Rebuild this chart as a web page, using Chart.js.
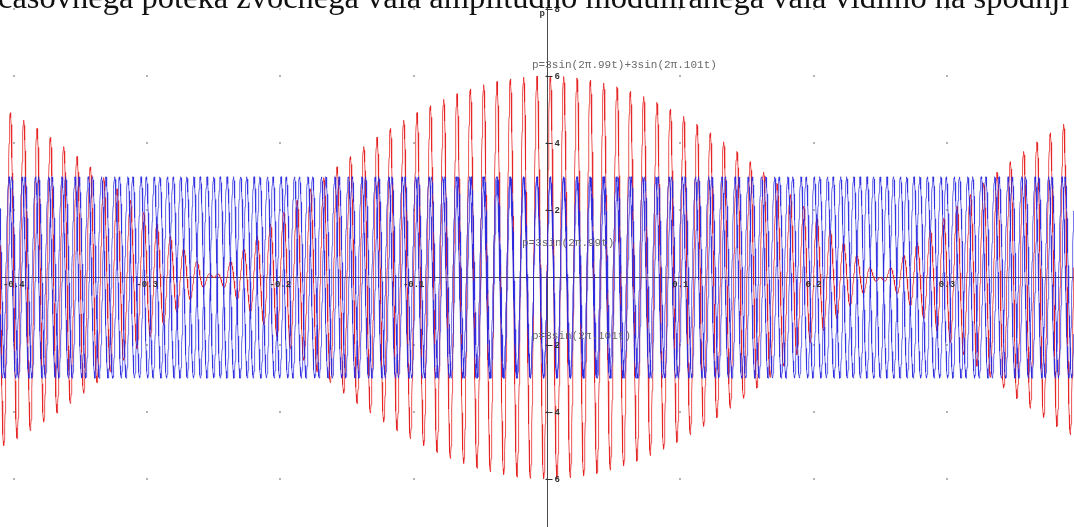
<!DOCTYPE html>
<html lang="sl">
<head>
<meta charset="utf-8">
<title>Utripanje: vsota dveh sinusnih nihanj</title>
<script src="https://cdn.jsdelivr.net/npm/chart.js@4.4.1/dist/chart.umd.min.js"></script>
<style>
  html, body { margin: 0; padding: 0; background: #fff; }
  body { width: 1074px; height: 527px; position: relative; overflow: hidden; }
  #plot { position: absolute; left: 0; top: 0; }
  .caption {
    position: absolute; left: -2px; top: -19px; white-space: nowrap;
    font-family: "Liberation Serif", "DejaVu Serif", serif; font-size: 32.5px;
    color: #111; line-height: 32.5px; z-index: 2;
  }
  .formula {
    position: absolute; white-space: nowrap; z-index: 2;
    font-family: "Liberation Mono", "DejaVu Sans Mono", monospace; font-size: 11px;
    color: #6a6a6a; line-height: 11px;
  }
</style>
</head>
<body>
<div class="caption" id="caption">časovnega poteka zvočnega vala amplitudno moduliranega vala vidimo na spodnji</div>
<div class="formula" style="left:532px; top:60px;">p=3sin(2π.99t)+3sin(2π.101t)</div>
<div class="formula" style="left:522px; top:238px;">p=3sin(2π.99t)</div>
<div class="formula" style="left:532px; top:331px;">p=3sin(2π.101t)</div>
<canvas id="plot" width="1074" height="527"></canvas>
<script>
// Component tones: p = A·sin(2π·f·t)
const amplitudes = [3, 3];
const frequencies = [99, 101];
// Time window shown on the horizontal axis (seconds)
const tRange = [-0.4103, 0.3953];
const pRange = [-7.426, 8.259];
const sampleStep = 0.0002;
// Axis ticks
const xTicks = [-0.4, -0.3, -0.2, -0.1, 0.1, 0.2, 0.3];
const xGrid = [-0.4, -0.3, -0.2, -0.1, 0, 0.1, 0.2, 0.3];
const yTicks = [8, 6, 4, 2, -2, -4, -6];
const yGrid = [8, 6, 4, 2, 0, -2, -4, -6];
const seriesNames = ['p=3sin(2π.99t)+3sin(2π.101t)', 'p=3sin(2π.99t)', 'p=3sin(2π.101t)'];

const tone = (i, t) => amplitudes[i] * Math.sin(2 * Math.PI * frequencies[i] * t);

const times = [];
for (let k = 0; ; k++) {
  const t = tRange[0] + k * sampleStep;
  if (t > tRange[1]) break;
  times.push(t);
}
const wave99 = times.map(t => ({ x: t, y: tone(0, t) }));
const wave101 = times.map(t => ({ x: t, y: tone(1, t) }));
const waveSum = times.map(t => ({ x: t, y: tone(0, t) + tone(1, t) }));

// Hand-drawn style axes: crossing lines, dotted grid, small labels
const axesPlugin = {
  id: 'crossAxes',
  beforeDatasetsDraw(chart) {
    const { ctx, scales: { x, y } } = chart;
    ctx.save();
    ctx.fillStyle = '#b4b4b4';
    xGrid.forEach(tx => yGrid.forEach(ty => {
      ctx.fillRect(Math.round(x.getPixelForValue(tx)) - 1, Math.round(y.getPixelForValue(ty)) - 1, 2, 2);
    }));
    const x0 = Math.round(x.getPixelForValue(0)) + 0.5;
    const y0 = Math.round(y.getPixelForValue(0)) + 0.5;
    ctx.strokeStyle = '#4a4a4a';
    ctx.lineWidth = 1;
    ctx.beginPath();
    ctx.moveTo(x.left, y0); ctx.lineTo(x.right, y0);
    ctx.moveTo(x0, 8); ctx.lineTo(x0, y.bottom);
    ctx.stroke();
    ctx.restore();
  },
  afterDatasetsDraw(chart) {
    const { ctx, scales: { x, y } } = chart;
    const x0 = Math.round(x.getPixelForValue(0)) + 0.5;
    const y0 = Math.round(y.getPixelForValue(0));
    ctx.save();
    ctx.fillStyle = '#333';
    ctx.strokeStyle = '#333';
    ctx.lineWidth = 1;
    ctx.font = 'bold 9px "Liberation Mono", monospace';
    ctx.textAlign = 'center';
    ctx.textBaseline = 'top';
    xTicks.forEach(v => ctx.fillText(String(v), x.getPixelForValue(v), y0 + 3));
    ctx.textAlign = 'left';
    ctx.textBaseline = 'middle';
    yTicks.forEach(v => {
      const py = Math.round(y.getPixelForValue(v)) + 0.5;
      ctx.beginPath(); ctx.moveTo(x0 - 2, py); ctx.lineTo(x0 + 5, py); ctx.stroke();
      ctx.fillText(String(Math.abs(v)), x0 + 7, py);
    });
    ctx.fillText('p', x0 - 8, 14);
    ctx.restore();
  }
};

new Chart(document.getElementById('plot'), {
  type: 'line',
  data: {
    datasets: [
      { label: seriesNames[0], data: waveSum, borderColor: 'rgba(230,30,30,0.75)', order: 2 },
      { label: seriesNames[1], data: wave99, borderColor: 'rgba(40,40,225,0.7)', order: 1 },
      { label: seriesNames[2], data: wave101, borderColor: 'rgba(40,40,225,0.7)', order: 1 }
    ]
  },
  options: {
    responsive: false,
    animation: false,
    parsing: false,
    normalized: true,
    events: [],
    layout: { padding: 0 },
    elements: { point: { radius: 0 }, line: { borderWidth: 1, tension: 0 } },
    plugins: { legend: { display: false }, tooltip: { enabled: false }, title: { display: false } },
    scales: {
      x: { type: 'linear', min: tRange[0], max: tRange[1], display: false },
      y: { type: 'linear', min: pRange[0], max: pRange[1], display: false }
    }
  },
  plugins: [axesPlugin]
});
</script>
</body>
</html>
